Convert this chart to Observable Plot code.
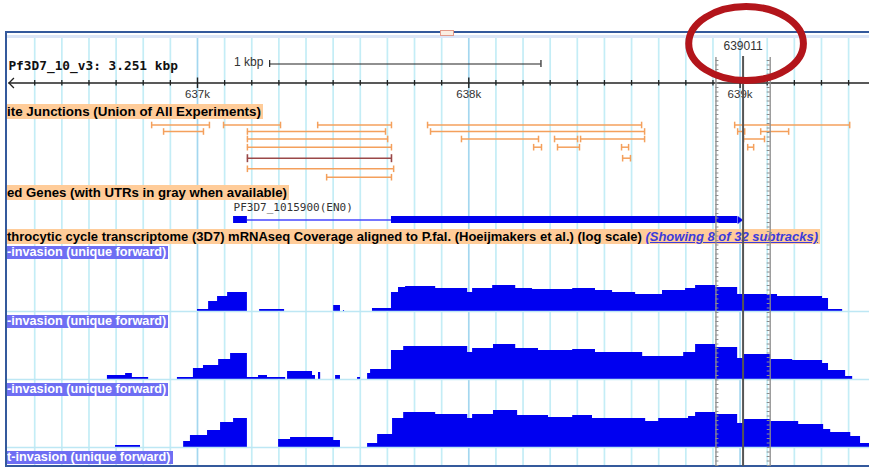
<!DOCTYPE html>
<html><head><meta charset="utf-8">
<script src="https://cdn.jsdelivr.net/npm/d3@7"></script>
<script src="https://cdn.jsdelivr.net/npm/@observablehq/plot@0.6"></script>
<style>
html,body{margin:0;padding:0;background:#fff;}
#wrap{position:relative;width:869px;height:468px;overflow:hidden;background:#fff;font-family:"Liberation Sans",Arial,sans-serif;}
.lbl{position:absolute;left:7px;width:862px;overflow:hidden;}
.lbl span.bar{position:absolute;top:0;left:0;white-space:nowrap;padding:0 2px 0 0;}
.peach{background:#ffcc99;color:#000;font-weight:bold;line-height:15px;height:15px;}
.sub{background:#6e6ef3;color:#fff;font-size:12.7px;font-weight:bold;line-height:13px;height:13px;}
.link{color:#3b3bdc;font-style:italic;text-decoration:underline;}
.frame{position:absolute;}
</style></head><body><div id="wrap"></div>
<script>
// ---------- data ----------
const viewStart = 636296, viewEnd = 639477;
const chromTitle = "Pf3D7_10_v3: 3.251 kbp";
const rulerMajor = [637000, 638000, 639000];
const rulerLabels = ["637k", "638k", "639k"];
const scaleBarStart = 637266, scaleBarEnd = 638266, scaleBarLabel = "1 kbp";
const markerPos = 639011;
const highlightStart = 638911, highlightEnd = 639111;

const junctionStart = [636831, 637096, 637443, 637848, 638980, 636875, 637184, 637859, 638991, 639076, 637184, 637973, 638316, 638412, 639013, 637184, 638239, 638327, 638563, 639028, 637184, 638567, 637184, 637476];
const junctionEnd   = [637044, 637306, 637715, 638637, 639404, 637022, 637693, 638648, 639017, 639179, 637701, 638257, 638401, 638648, 639090, 637715, 638268, 638408, 638589, 639050, 637715, 638596, 637723, 637715];
const junctionRow   = [0, 0, 0, 0, 0, 1, 1, 1, 1, 1, 2, 2, 2, 2, 2, 3, 3, 3, 3, 3, 4, 4, 5, 6];
const junctionKind  = ["n","n","n","n","n","n","n","n","n","n","n","n","n","n","n","n","n","n","n","n","s","n","n","n"];

const geneName = "PF3D7_1015900(EN0)";
const exonStart = [637133, 637715];
const exonEnd   = [637184, 638991];
const geneStart = 637133, geneEnd = 639011;

const track1Pos = [636296, 637000, 637041, 637074, 637111, 637184, 637229, 637321, 637502, 637527, 637538, 637542, 637645, 637715, 637741, 637767, 637878, 637996, 638014, 638088, 638173, 638235, 638383, 638467, 638530, 638615, 638714, 638799, 638836, 638910, 638991, 639138, 639304, 639326, 639378];
const track1Cov = [0, 2, 10, 15, 19, 0, 2, 0, 6, 0, 1, 0, 3, 19, 24, 25, 23, 19, 23, 26, 23, 22, 23, 21, 19, 17, 21, 23, 26, 24, 17, 15, 13, 2, 0];
const track2Pos = [636296, 636668, 636735, 636760, 636820, 636926, 636985, 637022, 637078, 637122, 637184, 637225, 637258, 637325, 637332, 637424, 637435, 637446, 637454, 637509, 637527, 637590, 637601, 637627, 637638, 637715, 637760, 637878, 637996, 638014, 638091, 638173, 638257, 638383, 638467, 638641, 638700, 638792, 638836, 638910, 638991, 639013, 639113, 639194, 639304, 639326, 639389, 639415];
const track2Cov = [0, 4, 6, 2, 0, 2, 11, 14, 20, 26, 2, 4, 2, 0, 8, 4, 0, 7, 0, 4, 0, 2, 0, 6, 10, 29, 33, 33, 27, 31, 35, 31, 29, 30, 27, 23, 23, 27, 35, 32, 21, 25, 20, 19, 16, 9, 3, 0];
const track3Pos = [636296, 636698, 636790, 636949, 636974, 637037, 637085, 637133, 637184, 637299, 637343, 637502, 637527, 637627, 637664, 637719, 637760, 637878, 637996, 638014, 638091, 638180, 638294, 638383, 638456, 638541, 638652, 638700, 638810, 638836, 638910, 638991, 639013, 639113, 639216, 639308, 639334, 639408, 639444, 639478];
const track3Cov = [0, 2, 0, 6, 12, 17, 25, 29, 0, 8, 10, 7, 0, 4, 13, 29, 35, 33, 29, 33, 37, 32, 30, 32, 29, 29, 26, 29, 31, 35, 33, 24, 28, 26, 23, 18, 15, 11, 4, 4];

const junctionTitle = "ite Junctions (Union of All Experiments)";
const geneTitle = "ed Genes (with UTRs in gray when available)";
const coverageTitle = "throcytic cycle transcriptome (3D7) mRNAseq Coverage aligned to P.fal. (Hoeijmakers et al.) (log scale) ";
const coverageLink = "(Showing 8 of 32 subtracks)";
const subtrackTitles = ["-invasion (unique forward)", "-invasion (unique forward)", "-invasion (unique forward)", "t-invasion (unique forward)"];

// ---------- helpers ----------
const wrap = document.getElementById("wrap");
const W = 869;
const X = {domain: [viewStart, viewEnd], range: [6, 869], axis: null};
const FONT = "Liberation Sans, Arial, sans-serif";
function addPlot(top, height, y, marks) {
  const svg = Plot.plot({width: W, height, marginTop: 0, marginRight: 0, marginBottom: 0, marginLeft: 0,
    x: X, y: {...y, axis: null}, marks});
  svg.style.position = "absolute"; svg.style.left = "0px"; svg.style.top = top + "px";
  svg.style.background = "transparent"; svg.style.maxWidth = "none"; svg.style.overflow = "visible";
  wrap.appendChild(svg);
  return svg;
}
const vbar = {draw(ctx, size) { const r = Math.sqrt(size / Math.PI); ctx.moveTo(0, -r); ctx.lineTo(0, r); }};
const chevronLeft = {draw(ctx, size) { const r = Math.sqrt(size / Math.PI); ctx.moveTo(r, -r); ctx.lineTo(0, 0); ctx.lineTo(r, r); }};
const arrowRight = {draw(ctx, size) { const r = Math.sqrt(size / Math.PI); ctx.moveTo(-r * 0.7, -r); ctx.lineTo(r * 0.7, 0); ctx.lineTo(-r * 0.7, r); ctx.closePath(); }};
const ellipseSym = {draw(ctx, size) {
  const ry = Math.sqrt(size / Math.PI), rx = ry * 1.55, k = 0.5523;
  ctx.moveTo(rx, 0);
  ctx.bezierCurveTo(rx, ry * k, rx * k, ry, 0, ry);
  ctx.bezierCurveTo(-rx * k, ry, -rx, ry * k, -rx, 0);
  ctx.bezierCurveTo(-rx, -ry * k, -rx * k, -ry, 0, -ry);
  ctx.bezierCurveTo(rx * k, -ry, rx, -ry * k, rx, 0);
  ctx.closePath();
}};

// ---------- grid (bottom layer) ----------
const grid = d3.range(636400, 639401, 100);
addPlot(0, 468, {domain: [0, 468], range: [0, 468]}, [
  Plot.ruleX(grid.filter(d => d % 1000 !== 0), {y1: 38, y2: 466, stroke: "#c4edf6", strokeWidth: 1.7}),
  Plot.ruleX(grid.filter(d => d % 1000 === 0), {y1: 38, y2: 466, stroke: "#a4d7ef", strokeWidth: 1.7})
]);

// ---------- header / ruler ----------
addPlot(0, 104, {domain: [0, 104], range: [0, 104]}, [
  Plot.ruleY([82.5], {x1: 636305, x2: viewEnd, stroke: "#222", strokeWidth: 1.3}),
  Plot.dot([636305], {x: d => d, y: 82.5, symbol: chevronLeft, r: 5, stroke: "#222", fill: "none", strokeWidth: 1.3}),
  Plot.ruleX(grid.filter(d => d % 1000 !== 0), {y1: 80, y2: 85.5, stroke: "#222", strokeWidth: 1.3}),
  Plot.ruleX(rulerMajor, {y1: 77.5, y2: 88, stroke: "#222", strokeWidth: 1.4}),
  Plot.text(rulerMajor, {x: d => d, y: 94, text: (d, i) => rulerLabels[i], fontSize: 11.5, fill: "#333", fontFamily: FONT}),
  Plot.text([chromTitle], {x: 636303, y: 65, text: d => d, textAnchor: "start", fontFamily: "DejaVu Sans Mono", fontWeight: "bold", fontSize: 12.8, fill: "#111"}),
  Plot.text([scaleBarLabel], {x: 637243, y: 61.5, text: d => d, textAnchor: "end", fontSize: 12, fill: "#333", fontFamily: FONT}),
  Plot.ruleY([63.5], {x1: scaleBarStart, x2: scaleBarEnd, stroke: "#222", strokeWidth: 1.2}),
  Plot.ruleX([scaleBarStart, scaleBarEnd], {y1: 60, y2: 67, stroke: "#222", strokeWidth: 1.2})
]);

// ---------- junctions ----------
const junctions = junctionStart.map((s, i) => ({start: s, end: junctionEnd[i], row: junctionRow[i], kind: junctionKind[i]}));
const jN = junctions.filter(d => d.kind === "n"), jS = junctions.filter(d => d.kind === "s");
addPlot(104, 80, {type: "linear", domain: [0, 1, 2, 3, 4, 5, 6], range: [20.5, 27, 34.5, 42.7, 53.7, 64.3, 72.7]}, [
  Plot.ruleY(jN, {x1: "start", x2: "end", y: "row", stroke: "#f4a05c", strokeWidth: 1.5}),
  Plot.dot(jN, {x: "start", y: "row", symbol: vbar, r: 3.3, stroke: "#f4a05c", fill: "none", strokeWidth: 1.5}),
  Plot.dot(jN, {x: "end", y: "row", symbol: vbar, r: 3.3, stroke: "#f4a05c", fill: "none", strokeWidth: 1.5}),
  Plot.ruleY(jS, {x1: "start", x2: "end", y: "row", stroke: "#9a4848", strokeWidth: 1.5}),
  Plot.dot(jS, {x: "start", y: "row", symbol: vbar, r: 4, stroke: "#9a4848", fill: "none", strokeWidth: 1.6}),
  Plot.dot(jS, {x: "end", y: "row", symbol: vbar, r: 4, stroke: "#9a4848", fill: "none", strokeWidth: 1.6})
]);

// ---------- gene ----------
const exons = exonStart.map((s, i) => ({start: s, end: exonEnd[i]}));
addPlot(184, 44, {domain: [0, 1], range: [39, 32]}, [
  Plot.ruleY([0.5], {x1: exonEnd[0], x2: exonStart[1], stroke: "#4646ff", strokeWidth: 1.5}),
  Plot.rect(exons, {x1: "start", x2: "end", y1: 0, y2: 1, fill: "#0000ee"}),
  Plot.dot([(exonEnd[1] + geneEnd) / 2], {x: d => d, y: 0.5, symbol: arrowRight, r: 3.6, fill: "#0000ee", stroke: "#0000ee", strokeWidth: 0.5}),
  Plot.text([geneName], {x: geneStart, y: 1, dy: -9, text: d => d, textAnchor: "start", fontFamily: "DejaVu Sans Mono", fontSize: 11, fill: "#333"})
]);

// ---------- coverage tracks ----------
const tracks = [[track1Pos, track1Cov], [track2Pos, track2Cov], [track3Pos, track3Cov]];
const trackTops = [245, 313, 381];
tracks.forEach(([pos, cov], k) => {
  const data = pos.map((p, i) => ({pos: p, cov: cov[i]}));
  addPlot(trackTops[k], 69, {domain: [0, 50], range: [66, 16]}, [
    Plot.areaY(data, {x: "pos", y: "cov", curve: "step-after", fill: "#0000f0"}),
    Plot.ruleY([0], {x1: viewStart, x2: viewEnd, stroke: "#bde7f4", strokeWidth: 1.5})
  ]);
});

// ---------- labels ----------
function addLabel(top, height, cls, size, parts) {
  const box = document.createElement("div");
  box.className = "lbl"; box.style.top = top + "px"; box.style.height = height + "px";
  const span = document.createElement("span");
  span.className = "bar " + cls;
  if (size) span.style.fontSize = size + "px";
  parts.forEach(([txt, c]) => {
    if (c) { const s = document.createElement("span"); s.className = c; s.textContent = txt; span.appendChild(s); }
    else span.appendChild(document.createTextNode(txt));
  });
  box.appendChild(span); wrap.appendChild(box);
}
addLabel(104, 15, "peach", 13.4, [[junctionTitle]]);
addLabel(185, 15, "peach", 13.2, [[geneTitle]]);
addLabel(229, 15, "peach", 13.0, [[coverageTitle], [coverageLink, "link"]]);
const subTops = [246, 315, 383, 451];
subtrackTitles.forEach((t, i) => addLabel(subTops[i], 13, "sub", null, [[t]]));

// ---------- frame ----------
function frameDiv(css) { const d = document.createElement("div"); d.className = "frame"; Object.assign(d.style, css); wrap.appendChild(d); }
frameDiv({left: "5px", top: "31px", width: "864px", height: "2px", background: "#34599c"});
frameDiv({left: "7px", top: "35px", width: "862px", height: "3px", background: "#dbe5f7"});
frameDiv({left: "5px", top: "31px", width: "2px", height: "436px", background: "#34599c"});
frameDiv({left: "5px", top: "465px", width: "864px", height: "2px", background: "#34599c"});
frameDiv({left: "440px", top: "30px", width: "14px", height: "6px", background: "#fbeee2", border: "1px solid #e39a8a", boxSizing: "border-box"});

// ---------- overlay: position highlight & annotation ----------
const tickYs = d3.range(60, 466, 4.5);
addPlot(0, 468, {domain: [0, 468], range: [0, 468]}, [
  Plot.ruleX([highlightStart, highlightEnd], {y1: 57, y2: 466, stroke: "#8c8c8c", strokeWidth: 1.3}),
  Plot.ruleY(tickYs, {x1: highlightStart, x2: highlightStart + 11, stroke: "#8c8c8c", strokeWidth: 1}),
  Plot.ruleY(tickYs, {x1: highlightEnd - 11, x2: highlightEnd, stroke: "#8c8c8c", strokeWidth: 1}),
  Plot.ruleX([markerPos], {y1: 56, y2: 466, stroke: "#555", strokeWidth: 2}),
  Plot.text([markerPos], {x: d => d, y: 46, text: d => String(d), fontSize: 12, fill: "#333", fontFamily: FONT}),
  Plot.dot([markerPos], {x: d => d, y: 43, dx: 3, symbol: ellipseSym, r: 37, stroke: "#b3151b", fill: "none", strokeWidth: 7})
]);
</script></body></html>
